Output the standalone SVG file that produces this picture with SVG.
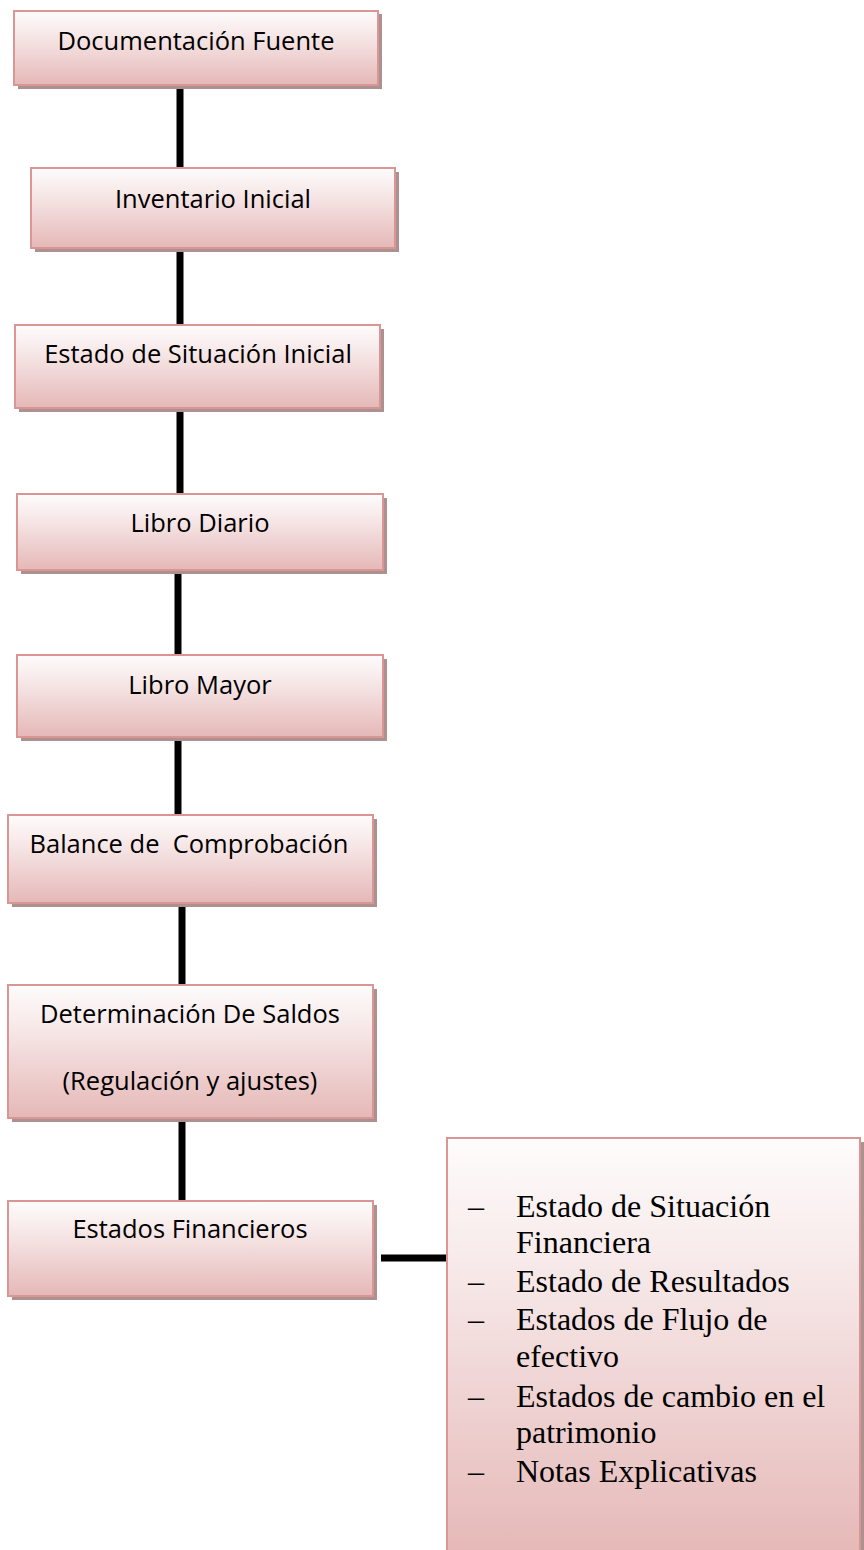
<svg xmlns="http://www.w3.org/2000/svg" width="864" height="1550" viewBox="0 0 864 1550">
<defs>
<linearGradient id="g" x1="0" y1="0" x2="0" y2="1">
<stop offset="0" stop-color="#fefcfc"/>
<stop offset="0.35" stop-color="#f6e6e6"/>
<stop offset="1" stop-color="#e5b8b7"/>
</linearGradient>
</defs>
<style>
.sh{fill:#ad9090;}
.bx{fill:url(#g);stroke:#d99694;stroke-width:2;}
.t{font-family:"Open Sans","Liberation Sans",sans-serif;font-size:25.5px;fill:#000;text-anchor:middle;}
.r{font-family:"Liberation Serif","Times New Roman",serif;font-size:32px;fill:#000;}
.c{stroke:#000;stroke-width:7;fill:none;}
</style>
<rect width="864" height="1550" fill="#fff"/>
<g id="connectors">
<line class="c" x1="180" y1="85" x2="180" y2="168"/>
<line class="c" x1="180" y1="248" x2="180" y2="325"/>
<line class="c" x1="180" y1="408" x2="180" y2="494"/>
<line class="c" x1="178" y1="570" x2="178" y2="655"/>
<line class="c" x1="178" y1="737" x2="178" y2="815"/>
<line class="c" x1="182" y1="903" x2="182" y2="985"/>
<line class="c" x1="182" y1="1118" x2="182" y2="1201"/>
<line class="c" x1="381" y1="1258" x2="447" y2="1258"/>
</g>
<g id="n1">
<rect class="sh" x="18" y="14" width="364" height="75"/>
<rect class="bx" x="14" y="11" width="364" height="74"/>
<text class="t" x="196" y="50">Documentación Fuente</text>
</g>
<g id="n2">
<rect class="sh" x="35" y="172" width="364" height="80"/>
<rect class="bx" x="31" y="168" width="364" height="80"/>
<text class="t" x="213" y="208">Inventario Inicial</text>
</g>
<g id="n3">
<rect class="sh" x="19" y="329" width="365" height="83"/>
<rect class="bx" x="15" y="325" width="365" height="83"/>
<text class="t" x="198" y="363">Estado de Situación Inicial</text>
</g>
<g id="n4">
<rect class="sh" x="21" y="498" width="366" height="76"/>
<rect class="bx" x="17" y="494" width="366" height="76"/>
<text class="t" x="200" y="532">Libro Diario</text>
</g>
<g id="n5">
<rect class="sh" x="21" y="659" width="366" height="82"/>
<rect class="bx" x="17" y="655" width="366" height="82"/>
<text class="t" x="200" y="694">Libro Mayor</text>
</g>
<g id="n6">
<rect class="sh" x="12" y="819" width="365" height="88"/>
<rect class="bx" x="8" y="815" width="365" height="88"/>
<text class="t" x="189" y="853" xml:space="preserve">Balance de  Comprobación</text>
</g>
<g id="n7">
<rect class="sh" x="12" y="989" width="365" height="133"/>
<rect class="bx" x="8" y="985" width="365" height="133"/>
<text class="t" x="190" y="1023">Determinación De Saldos</text>
<text class="t" x="190" y="1090">(Regulación y ajustes)</text>
</g>
<g id="n8">
<rect class="sh" x="12" y="1205" width="365" height="95"/>
<rect class="bx" x="8" y="1201" width="365" height="95"/>
<text class="t" x="190" y="1238">Estados Financieros</text>
</g>
<g id="n9">
<rect class="sh" x="451" y="1142" width="413" height="420"/>
<rect class="bx" x="447" y="1138" width="413" height="420"/>
<text class="r" x="468" y="1217">–</text>
<text class="r" x="516" y="1217">Estado de Situación</text>
<text class="r" x="516" y="1253">Financiera</text>
<text class="r" x="468" y="1292">–</text>
<text class="r" x="516" y="1292">Estado de Resultados</text>
<text class="r" x="468" y="1330">–</text>
<text class="r" x="516" y="1330">Estados de Flujo de</text>
<text class="r" x="516" y="1367">efectivo</text>
<text class="r" x="468" y="1407">–</text>
<text class="r" x="516" y="1407">Estados de cambio en el</text>
<text class="r" x="516" y="1443">patrimonio</text>
<text class="r" x="468" y="1482">–</text>
<text class="r" x="516" y="1482">Notas Explicativas</text>
</g>
</svg>
